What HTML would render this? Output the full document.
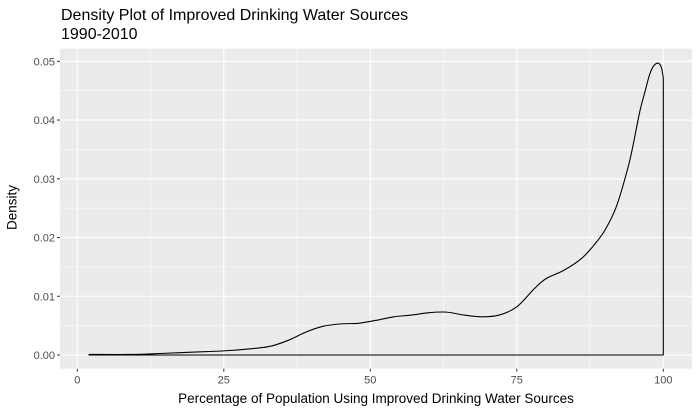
<!DOCTYPE html>
<html><head><meta charset="utf-8"><style>
html,body{margin:0;padding:0;background:#fff;}
svg{display:block;font-family:"Liberation Sans",Arial,sans-serif;}
</style></head><body>
<svg id="chart" width="700" height="416"></svg>
<script>
const xTicks=[0,25,50,75,100];
const yTicks=[0,0.01,0.02,0.03,0.04,0.05];
const yTickLabels=["0.00","0.01","0.02","0.03","0.04","0.05"];
const xVals=[2,10,15,20,25,30,33,36,39,42,45,48,51,54,57,60,63,66,69,72,75,78,80,83,86,88,90,92,94,95,96,97,97.5,98,98.5,99,99.4,99.7,100];
const densVals=[0.0001,0.0001,0.0003,0.0005,0.0007,0.0011,0.0015,0.0025,0.0039,0.0049,0.0053,0.0054,0.0059,0.0065,0.0068,0.0072,0.0073,0.0068,0.0065,0.0068,0.0082,0.0113,0.0130,0.0144,0.0164,0.0185,0.0212,0.0253,0.0320,0.0365,0.0415,0.0453,0.0472,0.0486,0.0494,0.0497,0.0495,0.0489,0.0472];
const NS="http://www.w3.org/2000/svg";
const svg=document.getElementById('chart');
const P={l:60,r:692,t:48.7,b:368.7};
const sx=v=>77.3+v*5.86;
const sy=v=>355-v*5874;
function mk(t,a,p){const e=document.createElementNS(NS,t);for(const k in a)e.setAttribute(k,a[k]);(p||svg).appendChild(e);return e;}
const bg=mk('rect',{x:P.l,y:P.t,width:P.r-P.l,height:P.b-P.t,fill:'#ebebeb'});


for(let i=0;i<xTicks.length-1;i++){const v=(xTicks[i]+xTicks[i+1])/2;mk('line',{x1:sx(v),x2:sx(v),y1:P.t,y2:P.b,stroke:'#fff','stroke-width':0.55});}
for(let i=0;i<yTicks.length-1;i++){const v=(yTicks[i]+yTicks[i+1])/2;mk('line',{x1:P.l,x2:P.r,y1:sy(v),y2:sy(v),stroke:'#fff','stroke-width':0.55});}
xTicks.forEach(v=>{
 mk('line',{x1:sx(v),x2:sx(v),y1:P.t,y2:P.b,stroke:'#fff','stroke-width':1.1});
 mk('line',{x1:sx(v),x2:sx(v),y1:P.b,y2:P.b+3,stroke:'#333','stroke-width':1});
 const t=mk('text',{x:sx(v),y:P.b+15,'text-anchor':'middle','font-size':11,fill:'#4d4d4d'});t.textContent=v;
 
 
});
yTicks.forEach((v,i)=>{
 mk('line',{x1:P.l,x2:P.r,y1:sy(v),y2:sy(v),stroke:'#fff','stroke-width':1.1});
 mk('line',{x1:P.l-3,x2:P.l,y1:sy(v),y2:sy(v),stroke:'#333','stroke-width':1});
 const t=mk('text',{x:P.l-5,y:sy(v)+4,'text-anchor':'end','font-size':11,fill:'#4d4d4d'});t.textContent=yTickLabels[i];
 
 
});
// smooth density curve (Catmull-Rom)
const pts=xVals.map((x,i)=>[sx(x),sy(densVals[i])]);
let d='M'+sx(xVals[0])+','+sy(0)+' L'+pts[0].join(',');
for(let i=0;i<pts.length-1;i++){
 const p0=pts[Math.max(0,i-1)],p1=pts[i],p2=pts[i+1],p3=pts[Math.min(pts.length-1,i+2)];
 const c1=[p1[0]+(p2[0]-p0[0])/6,p1[1]+(p2[1]-p0[1])/6];
 const c2=[p2[0]-(p3[0]-p1[0])/6,p2[1]-(p3[1]-p1[1])/6];
 d+=' C'+c1.join(',')+' '+c2.join(',')+' '+p2.join(',');
}
d+=' L'+sx(xVals[xVals.length-1])+','+sy(0)+' Z';
const path=mk('path',{d:d,fill:'none',stroke:'#000','stroke-width':1.1,'stroke-linejoin':'round'});


</script>
<div style="position:absolute;left:0;top:0;width:700px;height:416px;pointer-events:none;font-family:'Liberation Sans',Arial,sans-serif;">
<div style="position:absolute;left:61px;top:6px;font-size:16px;line-height:19px;color:#000;">Density Plot of Improved Drinking Water Sources<br>1990-2010</div>
<div style="position:absolute;left:60px;width:632px;top:391px;text-align:center;font-size:13.5px;color:#000;">Percentage of Population Using Improved Drinking Water Sources</div>
<div style="position:absolute;left:-18px;top:200px;width:60px;text-align:center;font-size:13.5px;color:#000;transform:rotate(-90deg);">Density</div>
</div>
</body></html>
